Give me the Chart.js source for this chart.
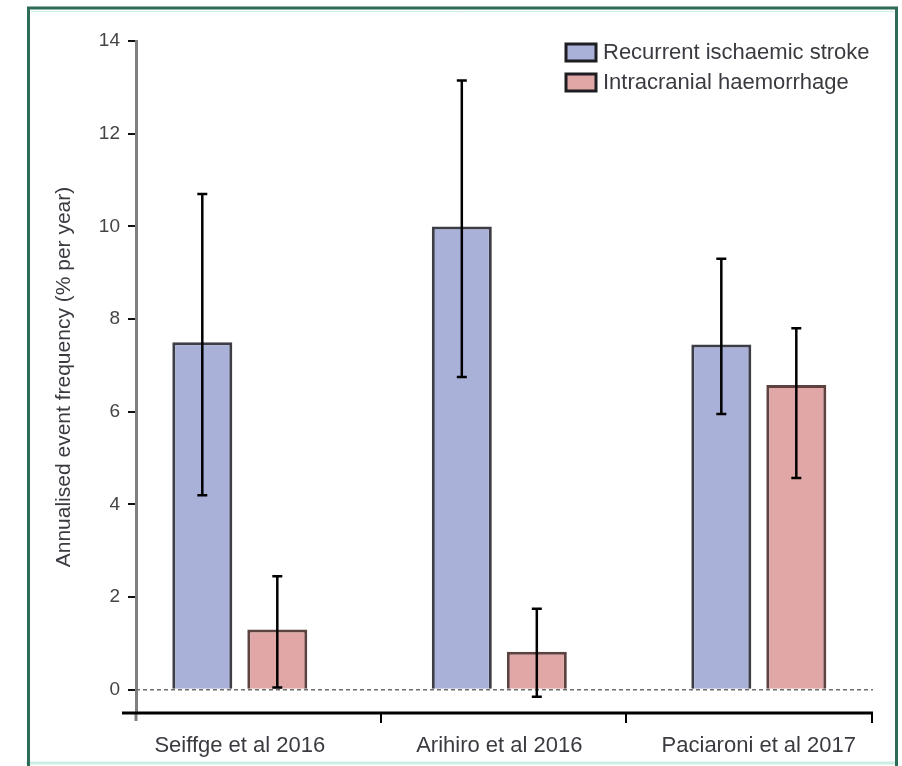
<!DOCTYPE html>
<html>
<head>
<meta charset="utf-8">
<script src="https://cdn.jsdelivr.net/npm/chart.js@4"></script>
<style>
  html, body { margin: 0; padding: 0; background: #fff; }
  #wrap { position: relative; width: 902px; height: 766px; }
</style>
</head>
<body>
<div id="wrap"><canvas id="chart" width="902" height="766"></canvas></div>
<script>
// categories (studies)
const categories = ['Seiffge et al 2016', 'Arihiro et al 2016', 'Paciaroni et al 2017'];
const seriesNames = ['Recurrent ischaemic stroke', 'Intracranial haemorrhage'];

// annualised event frequency (% per year)
const strokeValues = [7.5, 10.0, 7.45];
const strokeLow = [4.2, 6.75, 5.95];
const strokeHigh = [10.7, 13.15, 9.3];

const bleedValues = [1.3, 0.82, 6.58];
const bleedLow = [0.05, -0.15, 4.57];
const bleedHigh = [2.45, 1.75, 7.8];

const yTicks = [0, 2, 4, 6, 8, 10, 12, 14];

const FONT = "'Liberation Sans', Arial, sans-serif";
const TEXT = '#3a3a40';
const blueFill = '#aab1d9', blueEdge = '#3c3d46';
const redFill = '#e0a7a6', redEdge = '#5e4240';

const errors = [
  { low: strokeLow, high: strokeHigh },
  { low: bleedLow, high: bleedHigh }
];

// frame around the figure
const framePlugin = {
  id: 'frame',
  beforeDraw(chart) {
    const ctx = chart.ctx;
    ctx.save();
    ctx.fillStyle = '#fff';
    ctx.fillRect(0, 0, chart.width, chart.height);
    ctx.strokeStyle = '#cdeee4';
    ctx.lineWidth = 3;
    ctx.beginPath();
    ctx.moveTo(26, 763);
    ctx.lineTo(898, 763);
    ctx.stroke();
    ctx.strokeStyle = '#2e6b58';
    ctx.lineWidth = 3;
    ctx.beginPath();
    ctx.moveTo(28.5, 766);
    ctx.lineTo(28.5, 8);
    ctx.lineTo(896.5, 8);
    ctx.lineTo(896.5, 766);
    ctx.stroke();
    ctx.strokeStyle = '#cdeee4';
    ctx.lineWidth = 1;
    ctx.beginPath();
    ctx.moveTo(31, 11.5);
    ctx.lineTo(894, 11.5);
    ctx.stroke();
    ctx.restore();
  }
};

// dashed zero line, axis extensions and category tick marks
const axesPlugin = {
  id: 'axesExtra',
  beforeDatasetsDraw(chart) {
    const { ctx, chartArea: a, scales } = chart;
    const y0 = scales.y.getPixelForValue(0);
    ctx.save();
    ctx.strokeStyle = '#6e6e6e';
    ctx.lineWidth = 1.5;
    ctx.setLineDash([4, 3]);
    ctx.beginPath();
    ctx.moveTo(a.left, y0);
    ctx.lineTo(a.right, y0);
    ctx.stroke();
    ctx.restore();
  },
  afterDraw(chart) {
    const { ctx, chartArea: a } = chart;
    ctx.save();
    ctx.strokeStyle = '#808080';
    ctx.lineWidth = 3;
    ctx.beginPath();
    ctx.moveTo(a.left, a.bottom);
    ctx.lineTo(a.left, a.bottom + 8);
    ctx.stroke();
    ctx.strokeStyle = '#000';
    ctx.lineWidth = 3;
    ctx.beginPath();
    ctx.moveTo(a.left - 14, a.bottom);
    ctx.lineTo(a.right, a.bottom);
    ctx.stroke();
    ctx.lineWidth = 2;
    const w = (a.right - a.left) / 3;
    for (let i = 1; i <= 3; i++) {
      const x = Math.round(a.left + w * i) - 1;
      ctx.beginPath();
      ctx.moveTo(x, a.bottom);
      ctx.lineTo(x, a.bottom + 10);
      ctx.stroke();
    }
    ctx.restore();
  }
};

const errorBarPlugin = {
  id: 'errorBars',
  afterDatasetsDraw(chart) {
    const ctx = chart.ctx;
    const y = chart.scales.y;
    ctx.save();
    ctx.strokeStyle = '#000';
    ctx.lineWidth = 2.5;
    errors.forEach((err, di) => {
      const meta = chart.getDatasetMeta(di);
      meta.data.forEach((bar, i) => {
        const x = bar.x;
        const yl = y.getPixelForValue(err.low[i]);
        const yh = y.getPixelForValue(err.high[i]);
        ctx.beginPath();
        ctx.moveTo(x, yl);
        ctx.lineTo(x, yh);
        ctx.moveTo(x - 5, yl);
        ctx.lineTo(x + 5, yl);
        ctx.moveTo(x - 5, yh);
        ctx.lineTo(x + 5, yh);
        ctx.stroke();
      });
    });
    ctx.restore();
  }
};

const legendPlugin = {
  id: 'boxLegend',
  afterDraw(chart) {
    const ctx = chart.ctx;
    ctx.save();
    ctx.font = '22px ' + FONT;
    ctx.textBaseline = 'middle';
    chart.data.datasets.forEach((ds, i) => {
      const top = 44 + i * 30;
      ctx.fillStyle = ds.backgroundColor;
      ctx.fillRect(566, top, 30, 17);
      ctx.strokeStyle = '#1d1d22';
      ctx.lineWidth = 3;
      ctx.strokeRect(566, top, 30, 17);
      ctx.fillStyle = TEXT;
      ctx.fillText(ds.label, 603, top + 9);
    });
    ctx.restore();
  }
};

new Chart(document.getElementById('chart'), {
  type: 'bar',
  data: {
    datasets: [{
      label: seriesNames[0],
      data: categories.map((c, i) => ({ x: i, y: strokeValues[i] })),
      backgroundColor: blueFill,
      borderColor: blueEdge,
      borderWidth: 3,
      categoryPercentage: 0.578,
      barPercentage: 0.8
    }, {
      label: seriesNames[1],
      data: categories.map((c, i) => ({ x: i, y: bleedValues[i] })),
      backgroundColor: redFill,
      borderColor: redEdge,
      borderWidth: 3,
      categoryPercentage: 0.578,
      barPercentage: 0.8
    }]
  },
  options: {
    responsive: false,
    animation: false,
    layout: { padding: { left: 50, right: 29, top: 41, bottom: 0 } },
    plugins: {
      legend: { display: false },
      tooltip: { enabled: false }
    },
    scales: {
      x: {
        type: 'linear',
        offset: false,
        min: -0.4,
        max: 2.44,
        afterBuildTicks: axis => { axis.ticks = categories.map((c, i) => ({ value: i })); },
        afterFit: axis => { axis.height = 53; },
        grid: { display: false },
        border: { display: false },
        ticks: {
          callback: v => categories[v],
          font: { family: FONT, size: 22 },
          color: TEXT,
          padding: 12,
          maxRotation: 0,
          autoSkip: false
        }
      },
      y: {
        min: -0.5,
        max: 14,
        afterBuildTicks: axis => { axis.ticks = yTicks.map(v => ({ value: v })); },
        afterFit: axis => { axis.width = 86; },
        grid: {
          drawOnChartArea: false,
          drawTicks: true,
          tickLength: 8,
          color: '#111',
          lineWidth: 2
        },
        border: { display: true, color: '#808080', width: 3 },
        ticks: {
          font: { family: FONT, size: 19 },
          color: '#444',
          padding: 8
        },
        title: {
          display: true,
          text: 'Annualised event frequency (% per year)',
          font: { family: FONT, size: 21 },
          color: TEXT,
          padding: { top: 2, bottom: 0 }
        }
      }
    }
  },
  plugins: [framePlugin, axesPlugin, errorBarPlugin, legendPlugin]
});
</script>
</body>
</html>
